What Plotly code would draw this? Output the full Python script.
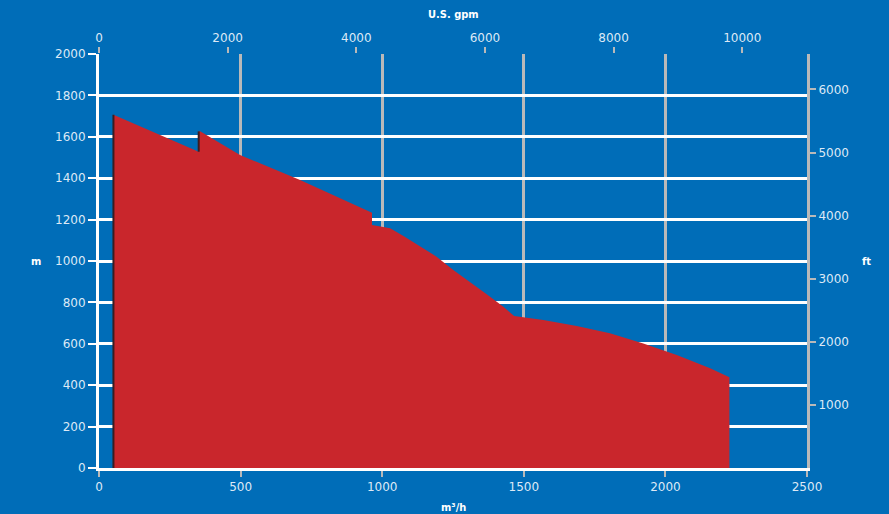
import plotly.graph_objects as go

# Pump performance envelope: flow (m³/h) vs head (m)
flow_m3h = [51, 51, 352, 352, 357, 498, 710, 964, 964, 1028, 1075, 1134, 1192, 1251,
            1310, 1369, 1428, 1466, 1569, 1687, 1804, 1922, 2040, 2158, 2226, 2226]
head_m = [0, 1706, 1528, 1626, 1627, 1512, 1391, 1233, 1174, 1158, 1121, 1072, 1021, 957,
          900, 839, 779, 734, 715, 686, 651, 602, 546, 482, 438, 0]

# Dark edges of the envelope
edge_left_x = [51, 51]
edge_left_y = [0, 1706]
edge_step_x = [352, 352]
edge_step_y = [1528, 1626]

x_ticks = [0, 500, 1000, 1500, 2000, 2500]
y_ticks = [0, 200, 400, 600, 800, 1000, 1200, 1400, 1600, 1800, 2000]
gpm_ticks = [0, 2000, 4000, 6000, 8000, 10000]
ft_ticks = [1000, 2000, 3000, 4000, 5000, 6000]

M3H_TO_GPM = 4.40287
M_TO_FT = 3.28084
X_MAX = 2500
Y_MAX = 2000

BG = "#006db8"
RED = "#c9262c"
GRID_GREY = "#b9b9b9"
TICK_COLOR = "#dde9f6"
FONT = "DejaVu Sans, sans-serif"
TITLE_FONT = "DejaVu Sans Condensed, Liberation Sans, sans-serif"

W, H = 889, 514
ML, MR, MT, MB = 99, 82, 54, 46

fig = go.Figure()

fig.add_trace(go.Scatter(
    x=flow_m3h, y=head_m, mode="lines", fill="toself",
    fillcolor=RED, line=dict(color=RED, width=0), hoverinfo="skip",
    showlegend=False,
))
fig.add_trace(go.Scatter(
    x=edge_left_x, y=edge_left_y, mode="lines",
    line=dict(color="#3a1d22", width=2), showlegend=False, hoverinfo="skip",
))
fig.add_trace(go.Scatter(
    x=edge_step_x, y=edge_step_y, mode="lines",
    line=dict(color="#3a1d22", width=2), showlegend=False, hoverinfo="skip",
))
# Secondary (imperial) axes carry an empty trace so they render
fig.add_trace(go.Scatter(
    x=[None], y=[None], xaxis="x2", yaxis="y2", showlegend=False, hoverinfo="skip",
))

tick_font = dict(family=FONT, size=12, color=TICK_COLOR)

fig.update_layout(
    width=W, height=H,
    margin=dict(l=ML, r=MR, t=MT, b=MB),
    paper_bgcolor=BG, plot_bgcolor=BG,
    showlegend=False,
    xaxis=dict(
        range=[0, X_MAX], tickvals=x_ticks, ticktext=[str(v) for v in x_ticks],
        showgrid=True, gridcolor=GRID_GREY, gridwidth=3,
        zeroline=False, showline=True, linecolor="white", linewidth=3,
        ticks="outside", ticklen=6, tickwidth=2, tickcolor=GRID_GREY,
        tickfont=tick_font, fixedrange=True,
    ),
    yaxis=dict(
        range=[0, Y_MAX], tickvals=y_ticks, ticktext=[str(v) for v in y_ticks],
        showgrid=True, gridcolor="white", gridwidth=3,
        zeroline=False, showline=True, linecolor="white", linewidth=3,
        ticks="outside", ticklen=8, tickwidth=2, tickcolor="white",
        tickfont=tick_font, fixedrange=True,
    ),
    xaxis2=dict(
        overlaying="x", side="top", range=[0, X_MAX * M3H_TO_GPM],
        tickvals=gpm_ticks, ticktext=[str(v) for v in gpm_ticks],
        showgrid=False, zeroline=False, showline=False,
        ticks="outside", ticklen=6, tickwidth=2, tickcolor=GRID_GREY,
        tickfont=tick_font, fixedrange=True,
    ),
    yaxis2=dict(
        overlaying="y", side="right", range=[0, Y_MAX * M_TO_FT],
        tickvals=ft_ticks, ticktext=[str(v) for v in ft_ticks],
        showgrid=False, zeroline=False, showline=True, linecolor=GRID_GREY, linewidth=3,
        ticks="outside", ticklen=6, tickwidth=2, tickcolor=GRID_GREY,
        tickfont=tick_font, fixedrange=True,
    ),
)

title_font = dict(family=TITLE_FONT, size=11, color="white")


def to_paper(px, py):
    """Pixel position in the page -> paper coordinates of the plot area."""
    xp = (px - ML) / (W - ML - MR)
    yp = (H - MB - py) / (H - MT - MB)
    return xp, yp


# Axis titles: (text, pixel x, pixel y)
axis_titles = [
    ("<b>U.S. gpm</b>", 453, 14),
    ("<b>m³/h</b>", 453, 507),
    ("<b>m</b>", 36, 261),
    ("<b>ft</b>", 866, 261),
]
for text, px, py in axis_titles:
    xp, yp = to_paper(px, py)
    fig.add_annotation(
        text=text, x=xp, y=yp, xref="paper", yref="paper",
        showarrow=False, font=title_font, xanchor="center", yanchor="middle",
    )

fig.write_html("out.html")
